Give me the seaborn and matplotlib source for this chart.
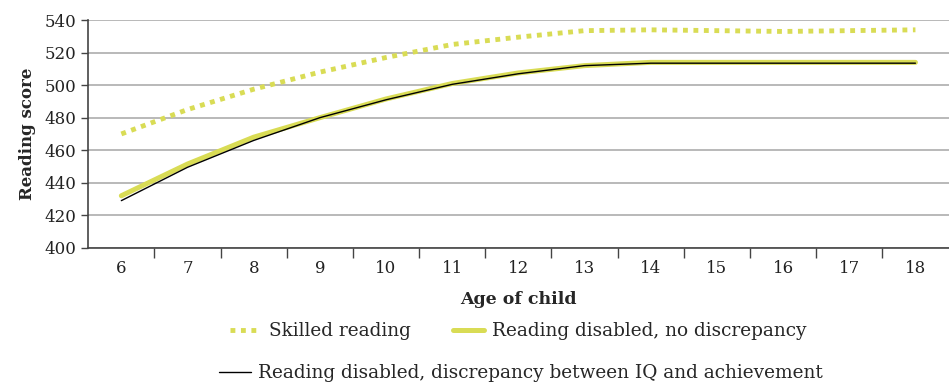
import numpy as np
import pandas as pd
import matplotlib
matplotlib.use("Agg")
import matplotlib.pyplot as plt
import seaborn as sns

ages = ["6", "7", "8", "9", "10", "11", "12", "13", "14", "15", "16", "17", "18"]
skilled = [470, 485, 497.5, 508, 517, 525, 529.5, 533.5, 534, 533.5, 533, 533.5, 534]
no_discrepancy = [432, 451.5, 468, 480, 491.5, 501, 507.5, 512, 514, 514, 514, 514, 514]
discrepancy = [429, 449.5, 466, 480, 491, 500.5, 507, 512, 513.5, 513.5, 513.5, 513.5, 513.5]

labels = ["Skilled reading", "Reading disabled, no discrepancy",
          "Reading disabled, discrepancy between IQ and achievement"]

sns.set_style("white")
plt.rcParams["font.family"] = ["DejaVu Serif"]

yellow = "#d9dc55"
fig, ax = plt.subplots(figsize=(9.49, 3.86), dpi=100)
fig.subplots_adjust(left=0.093, right=0.9995, top=0.948, bottom=0.358)

pos = np.arange(len(ages))
df = pd.DataFrame({"pos": pos, "s": skilled, "n": no_discrepancy, "d": discrepancy})

sns.lineplot(data=df, x="pos", y="s", ax=ax, color=yellow, lw=3.5,
             dashes=False, label=labels[0])
ax.lines[-1].set_dashes((1.0, 1.15))
ax.lines[-1].set_dash_capstyle("butt")
sns.lineplot(data=df, x="pos", y="n", ax=ax, color=yellow, lw=3.6, label=labels[1])
sns.lineplot(data=df, x="pos", y="d", ax=ax, color="black", lw=1.0, label=labels[2])

ax.set_xlim(-0.5, len(ages) - 0.5)
ax.set_ylim(400, 540)
ax.set_yticks(range(400, 541, 20))
ax.yaxis.grid(True, color="#a6a6a6", lw=1.1)
ax.set_xticks(pos)
ax.set_xticklabels(ages)
ax.set_xticks(np.arange(0.5, len(ages) - 0.5, 1), minor=True)
ax.tick_params(axis="x", which="major", length=0, labelsize=12, pad=9, colors="#222222")
ax.tick_params(axis="x", which="minor", length=7, width=1, color="#444444", bottom=True)
ax.tick_params(axis="y", length=5, width=1, color="#444444", labelsize=12, left=True,
               colors="#222222")
for sp in ["top", "right"]:
    ax.spines[sp].set_visible(False)
for sp in ["left", "bottom"]:
    ax.spines[sp].set_color("#444444")
    ax.spines[sp].set_linewidth(1.2)

ax.set_xlabel("Age of child", fontsize=12.5, fontweight="bold", labelpad=10)
ax.set_ylabel("Reading score", fontsize=12, fontweight="bold", labelpad=6)

handles, _ = ax.get_legend_handles_labels()
ax.get_legend().remove()
leg_kw = dict(frameon=False, fontsize=13.3, handlelength=1.7, handletextpad=0.4,
              borderpad=0, borderaxespad=0)
fig.legend(handles[:2], labels[:2], loc="center", bbox_to_anchor=(0.546, 0.142),
           ncol=2, columnspacing=2.3, **leg_kw)
fig.legend(handles[2:], labels[2:], loc="center", bbox_to_anchor=(0.549, 0.033), **leg_kw)

fig.savefig("out.png", dpi=100)
